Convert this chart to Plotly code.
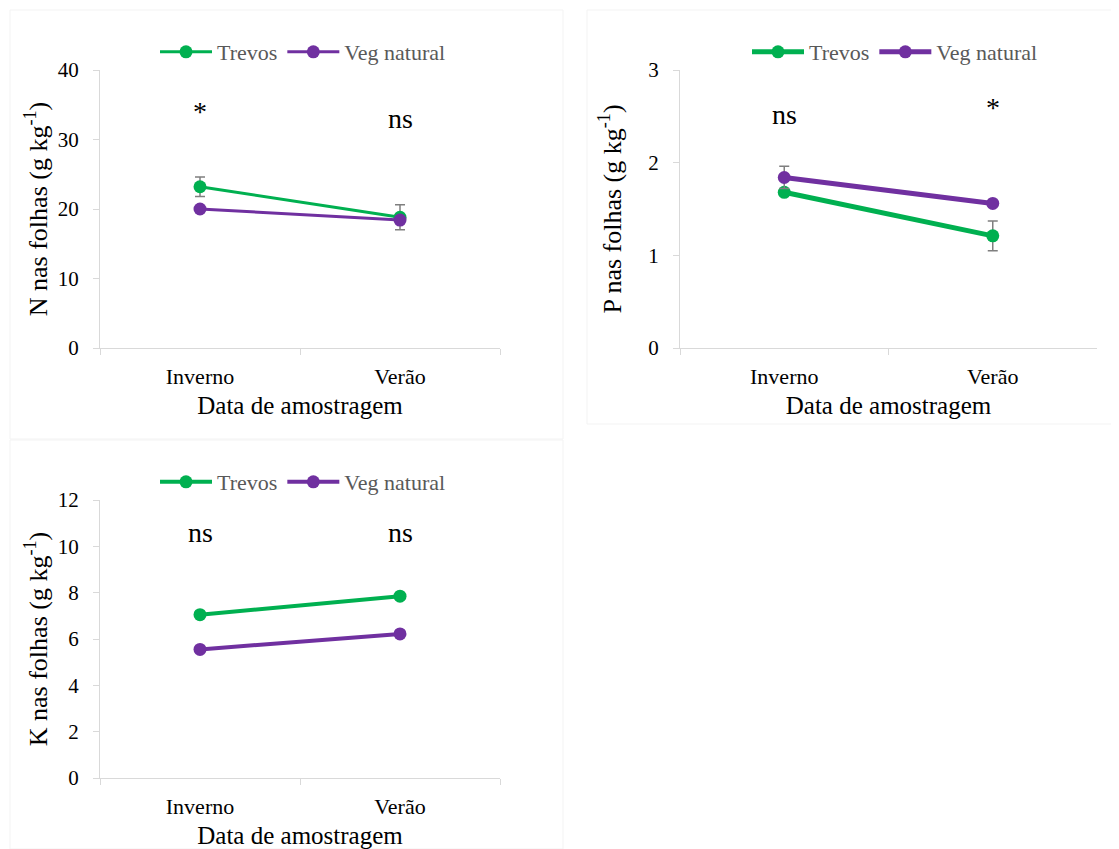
import plotly.graph_objects as go

# page body has an 8px default margin; place everything relative to screen pixels
OFF = 8
W, H = 1119 - OFF, 849 - OFF

categories = ["Inverno", "Verão"]
series_names = ["Trevos", "Veg natural"]

n_trevos = [23.2, 18.8]
n_trevos_err = [1.4, 1.8]
n_veg = [20.0, 18.4]
n_veg_err = [0.4, 0.3]

p_trevos = [1.68, 1.21]
p_trevos_err = [0.03, 0.16]
p_veg = [1.84, 1.56]
p_veg_err = [0.12, 0.03]

k_trevos = [7.05, 7.85]
k_veg = [5.55, 6.22]

n_sig = ["*", "ns"]
n_sig_y = [34.0, 33.0]
p_sig = ["ns", "*"]
p_sig_y = [2.52, 2.6]
k_sig = ["ns", "ns"]
k_sig_y = [10.6, 10.6]

GREEN = "#00b050"
PURPLE = "#7030a0"
FONT = "Liberation Serif, Times New Roman, serif"
AXCOL = "#d9d9d9"

fig = go.Figure()

def px_x(v):
    return (v - OFF) / W

def px_y(v):
    return 1 - (v - OFF) / H

panels = [
    dict(xa="x", ya="y", leg="legend", vals=(n_trevos, n_veg), errs=(n_trevos_err, n_veg_err),
         lw=3, ms=13, sig=n_sig, sig_y=n_sig_y),
    dict(xa="x2", ya="y2", leg="legend2", vals=(p_trevos, p_veg), errs=(p_trevos_err, p_veg_err),
         lw=5, ms=13, sig=p_sig, sig_y=p_sig_y),
    dict(xa="x3", ya="y3", leg="legend3", vals=(k_trevos, k_veg), errs=(None, None),
         lw=4, ms=13, sig=k_sig, sig_y=k_sig_y),
]

for p in panels:
    for name, vals, err, col in zip(series_names, p["vals"], p["errs"], [GREEN, PURPLE]):
        tr = dict(
            x=categories, y=vals, name=name, mode="lines+markers",
            line=dict(color=col, width=p["lw"]),
            marker=dict(color=col, size=p["ms"]),
            xaxis=p["xa"], yaxis=p["ya"], legend=p["leg"],
        )
        if err is not None:
            tr["error_y"] = dict(type="data", array=err, visible=True,
                                 color="#7f7f7f", thickness=1.5, width=5)
        fig.add_trace(go.Scatter(**tr))
    for c, s, yv in zip(categories, p["sig"], p["sig_y"]):
        fig.add_annotation(x=c, y=yv, xref=p["xa"], yref=p["ya"], text=s,
                           showarrow=False, font=dict(family=FONT, size=28, color="black"))

xaxis_common = dict(
    type="category", range=[-0.5, 1.5], tickson="boundaries", automargin=False,
    ticks="outside", ticklen=6, tickcolor=AXCOL, showline=True, linecolor=AXCOL,
    linewidth=1, showgrid=False, zeroline=False,
    tickfont=dict(family=FONT, size=22, color="black"),
    title=dict(text="Data de amostragem", font=dict(family=FONT, size=25, color="black"), standoff=8),
    ticklabelstandoff=9,
)

def yaxis(title, rng, dtick, standoff):
    return dict(
        range=rng, dtick=dtick, ticks="outside", ticklen=6, tickcolor=AXCOL, automargin=False,
        showline=True, linecolor=AXCOL, linewidth=1, showgrid=False, zeroline=False,
        tickfont=dict(family=FONT, size=21, color="black"),
        ticklabelstandoff=10,
        title=dict(text=title, font=dict(family=FONT, size=26, color="black"), standoff=standoff),
    )

x1 = [px_x(100), px_x(500)]
x2 = [px_x(680), px_x(1097)]
ytop = [px_y(348), px_y(70)]
ybot = [px_y(778), px_y(500)]

legend_common = dict(orientation="h", xanchor="center", yanchor="middle",
                     font=dict(family=FONT, size=22, color="#595959"),
                     itemwidth=52, bgcolor="rgba(0,0,0,0)")

fig.update_layout(
    width=W, height=H,
    margin=dict(l=0, r=0, t=0, b=0, autoexpand=False),
    paper_bgcolor="white", plot_bgcolor="white",
    xaxis=dict(domain=x1, anchor="y", **xaxis_common),
    yaxis=dict(domain=ytop, anchor="x", **yaxis("N nas folhas (g kg<sup>-1</sup>)", [0, 40], 10, 2)),
    xaxis2=dict(domain=x2, anchor="y2", **xaxis_common),
    yaxis2=dict(domain=ytop, anchor="x2", **yaxis("P nas folhas (g kg<sup>-1</sup>)", [0, 3], 1, 19)),
    xaxis3=dict(domain=x1, anchor="y3", **xaxis_common),
    yaxis3=dict(domain=ybot, anchor="x3", **yaxis("K nas folhas (g kg<sup>-1</sup>)", [0, 12], 2, 2)),
    legend=dict(x=px_x(303), y=px_y(52), **legend_common),
    legend2=dict(x=px_x(895), y=px_y(52), **legend_common),
    legend3=dict(x=px_x(303), y=px_y(482), **legend_common),
    showlegend=True,
)

# faint chart-area borders
for (x0, y0, xx1, yy1) in [(10, 10, 563, 439), (587, 10, 1119, 424), (10, 440, 563, 849)]:
    fig.add_shape(type="rect", xref="paper", yref="paper",
                  x0=px_x(x0), x1=px_x(xx1), y0=px_y(yy1), y1=px_y(y0),
                  line=dict(color="#f3f3f3", width=1), layer="below")

fig.write_html("out.html")
